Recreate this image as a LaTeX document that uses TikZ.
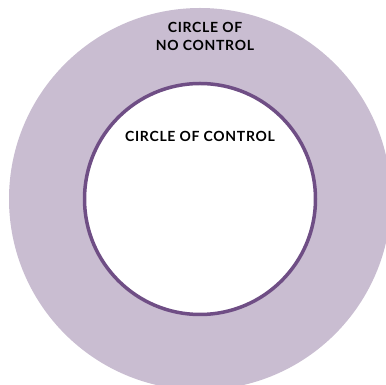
\documentclass[tikz,border=0pt]{standalone}
\usepackage{fontspec}
\setmainfont{Lato}
\newfontfamily\spacedlato[LetterSpace=5]{Lato}
\usepackage{tikz}
\usetikzlibrary{positioning}
\definecolor{lilac}{HTML}{C9BDD1}
\definecolor{plum}{HTML}{6F4E85}

\begin{document}
\begin{tikzpicture}[
    x=1pt, y=1pt,
    every node/.style={font=\spacedlato\bfseries\fontsize{14}{18}\selectfont, align=center, inner sep=0pt},
    ring/.style={circle, fill=lilac, minimum size=382pt},
    core/.style={circle, draw=plum, line width=3.5pt, fill=white, minimum size=231pt}]

    \useasboundingbox (0,0) rectangle (386,385);

    \node[ring] (nocontrol) at (200,186) {};
    \node[core] (control) at (200,186) {};

    \node[anchor=north, below=14.5 of nocontrol.north, xshift=5pt] (nocontrollabel) {CIRCLE OF\\NO CONTROL};
    \node[anchor=north, below=49.5 of control.north] (controllabel) {CIRCLE OF CONTROL};

\end{tikzpicture}
\end{document}
